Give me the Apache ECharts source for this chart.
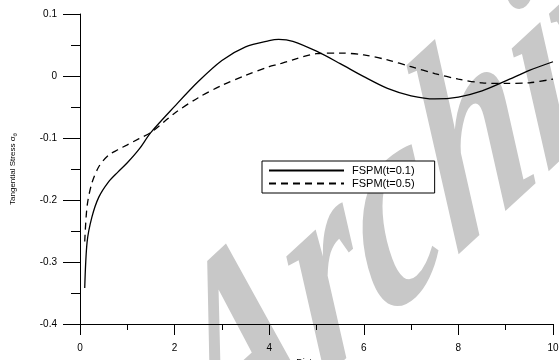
<!DOCTYPE html>
<html>
<head>
<meta charset="utf-8">
<script src="https://cdn.jsdelivr.net/npm/echarts@6/dist/echarts.min.js"></script>
<style>
  html, body { margin: 0; padding: 0; background: #fff; }
  #chart { width: 559px; height: 360px; }
</style>
</head>
<body>
<div id="chart"></div>
<script>
// Radial positions (distance r) where the stress curves are sampled
const distanceR = [0.1, 0.15, 0.25, 0.4, 0.6, 0.8, 1.0, 1.25, 1.5, 2.0, 2.5, 3.0, 3.5, 4.0, 4.2, 4.5, 5.0, 5.5, 6.0, 6.5, 7.0, 7.5, 8.0, 8.5, 9.0, 9.5, 10];

// Tangential stress, FSPM at t = 0.1
const stressT01 = [-0.342, -0.268, -0.228, -0.195, -0.171, -0.155, -0.140, -0.118, -0.091, -0.049, -0.009, 0.025, 0.047, 0.057, 0.059, 0.056, 0.040, 0.020, -0.001, -0.020, -0.032, -0.037, -0.034, -0.024, -0.008, 0.009, 0.023];

// Tangential stress, FSPM at t = 0.5
const stressT05 = [-0.267, -0.210, -0.173, -0.146, -0.128, -0.119, -0.111, -0.101, -0.091, -0.060, -0.035, -0.015, 0.001, 0.015, 0.019, 0.026, 0.036, 0.037, 0.034, 0.026, 0.015, 0.004, -0.005, -0.011, -0.012, -0.011, -0.005];

const seriesNames = ['FSPM(t=0.1)', 'FSPM(t=0.5)'];
const xTicks = { min: 0, max: 10, step: 2 };
const yTicks = { min: -0.4, max: 0.1, step: 0.1 };

const pairs = (xs, ys) => xs.map((x, i) => [x, ys[i]]);

const chart = echarts.init(document.getElementById('chart'), null, { renderer: 'canvas' });

const axisFont = { fontFamily: 'Liberation Sans, Arial, sans-serif', fontSize: 10, color: '#000' };

chart.setOption({
  animation: false,
  backgroundColor: '#fff',
  grid: { left: 80, right: 6, top: 14, bottom: 36, containLabel: false, outerBoundsMode: 'none' },
  xAxis: {
    type: 'value',
    min: xTicks.min, max: xTicks.max, interval: xTicks.step,
    name: 'Distance r',
    nameLocation: 'middle',
    nameGap: 28,
    nameTextStyle: { fontFamily: 'Liberation Sans, Arial, sans-serif', fontSize: 9, color: '#000' },
    axisLine: { show: true, onZero: false, lineStyle: { color: '#000', width: 1 } },
    axisTick: { show: true, length: 11, lineStyle: { color: '#000', width: 1 } },
    minorTick: { show: true, splitNumber: 2, length: 6, lineStyle: { color: '#000', width: 1 } },
    axisLabel: Object.assign({ margin: 19 }, axisFont),
    splitLine: { show: false }
  },
  yAxis: {
    type: 'value',
    min: yTicks.min, max: yTicks.max, interval: yTicks.step,
    name: '{a|Tangential Stress σ}{b|θ}',
    nameLocation: 'middle',
    nameRotate: 90,
    nameGap: 62,
    nameTextStyle: {
      color: '#000',
      rich: {
        a: { fontFamily: 'Liberation Sans, Arial, sans-serif', fontSize: 8, color: '#000' },
        b: { fontFamily: 'Liberation Sans, Arial, sans-serif', fontSize: 6, color: '#000', padding: [4, 0, 0, 0] }
      }
    },
    axisLine: { show: true, onZero: false, lineStyle: { color: '#000', width: 1 } },
    axisTick: { show: true, length: 17, lineStyle: { color: '#000', width: 1 } },
    minorTick: { show: true, splitNumber: 2, length: 9, lineStyle: { color: '#000', width: 1 } },
    axisLabel: Object.assign({ margin: 23, formatter: v => (Math.abs(v) < 1e-9 ? '0' : String(Math.round(v * 10) / 10)) }, axisFont),
    splitLine: { show: false }
  },
  legend: {
    orient: 'vertical',
    left: 262,
    top: 161,
    padding: [4, 20, 4, 6],
    itemWidth: 75,
    itemHeight: 9,
    itemGap: 2,
    borderColor: '#000',
    borderWidth: 1,
    borderRadius: 0,
    backgroundColor: '#fff',
    itemStyle: { color: 'rgba(0,0,0,0)', borderWidth: 0, opacity: 0 },
    textStyle: { fontFamily: 'Liberation Sans, Arial, sans-serif', fontSize: 11, color: '#000', padding: [0, 0, 0, 3] },
    data: seriesNames
  },
  graphic: [{
    type: 'group',
    silent: true,
    z: -1,
    scaleY: 1.6,
    children: [{
      type: 'text',
      z: -1,
      x: 145,
      y: 178,
      rotation: 30 * Math.PI / 180,
      style: {
        text: 'Archive',
        font: 'italic bold 185px "Liberation Serif", serif',
        fill: '#c8c8c8'
      }
    }]
  }],
  series: [
    {
      name: seriesNames[0],
      type: 'line',
      data: pairs(distanceR, stressT01),
      smooth: 0.3,
      symbol: 'none',
      lineStyle: { color: '#000', width: 1.3, type: 'solid' },
      itemStyle: { color: '#000' },
      z: 3
    },
    {
      name: seriesNames[1],
      type: 'line',
      data: pairs(distanceR, stressT05),
      smooth: 0.3,
      symbol: 'none',
      lineStyle: { color: '#000', width: 1.3, type: [7, 5] },
      itemStyle: { color: '#000' },
      z: 3
    }
  ]
});
</script>
</body>
</html>
